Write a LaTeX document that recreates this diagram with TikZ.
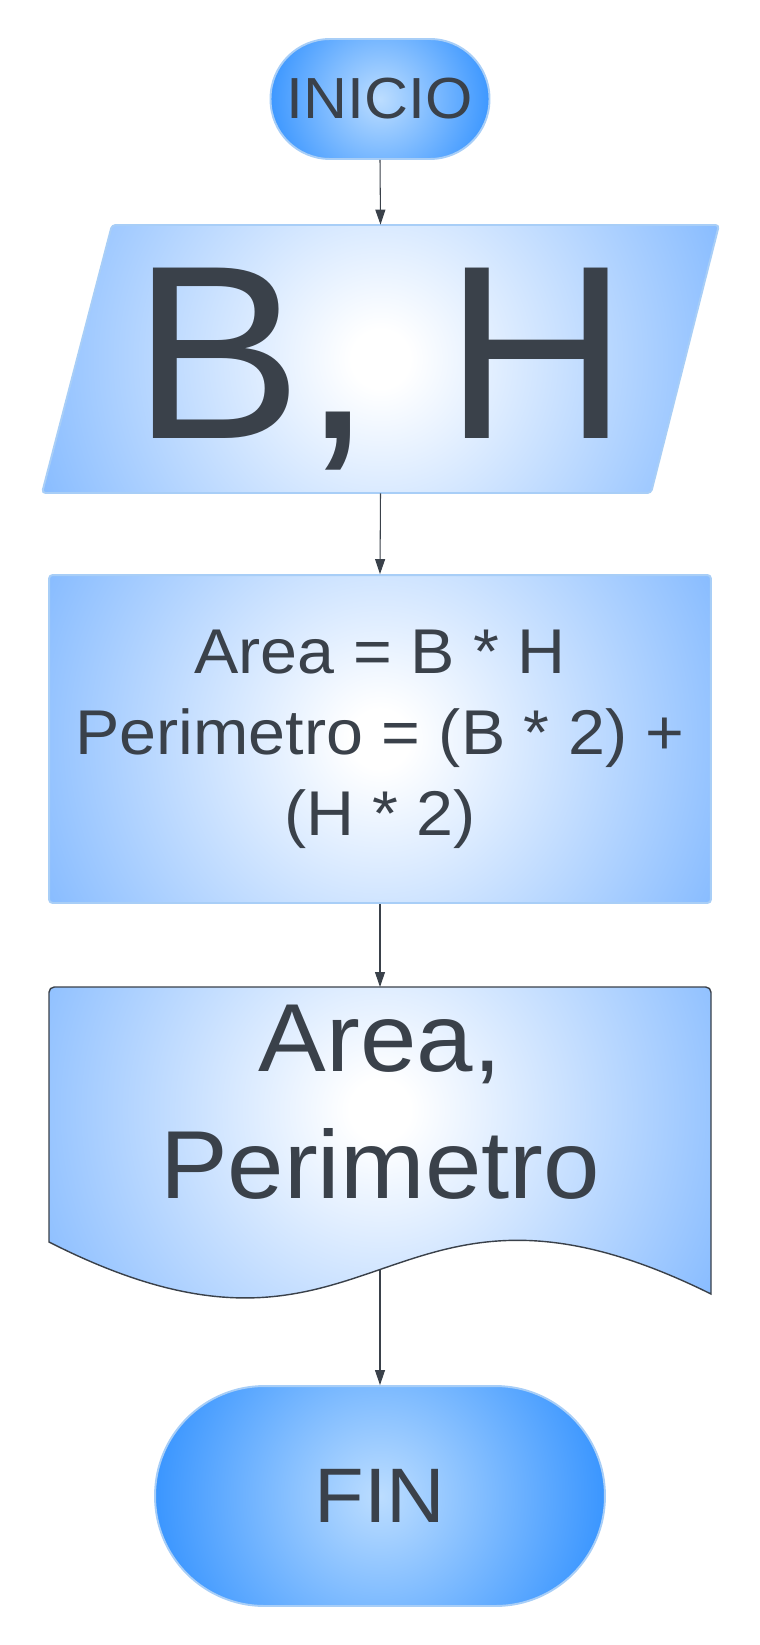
\documentclass[tikz,border=0pt]{standalone}
\usepackage{fontspec}
\setmainfont[FakeStretch=1.05]{Liberation Sans}
\newfontfamily\bigsans[FakeStretch=1.03]{Liberation Sans}
\usepackage{tikz}
\usetikzlibrary{arrows.meta}
\definecolor{inkc}{RGB}{58,65,74}
\definecolor{edgec}{RGB}{168,206,247}
\definecolor{palec}{RGB}{136,188,255}
\definecolor{termin}{RGB}{188,221,255}
\definecolor{termout}{RGB}{44,142,255}
\pgfdeclareradialshading{paleglow}{\pgfpoint{0bp}{0bp}}{color(0bp)=(white); color(2bp)=(white); color(25bp)=(palec); color(50bp)=(palec)}
\pgfdeclareradialshading{termglow}{\pgfpoint{0bp}{0bp}}{color(0bp)=(termin); color(25bp)=(termout); color(50bp)=(termout)}

\begin{document}
\begin{tikzpicture}[x=0.02cm,y=-0.02cm, every node/.style={text=inkc},
  glow/.style 2 args={path picture={\shade[shading=#1] (path picture bounding box.center) circle (#2);}},
  term/.style={draw=edgec, line width=1.1pt},
  flow/.style={draw=inkc, line width=0.6pt, -{Triangle[length=0.3cm,width=0.2cm]}}]
  \useasboundingbox (0,0) rectangle (760,1645);
  \node[term, minimum width=4.38cm, minimum height=2.4cm, rounded corners=1.19cm, glow={termglow}{2.5cm}, font=\fontsize{33}{40}\selectfont] (inicio) at (380,99) {INICIO};
  \draw[term, rounded corners=2pt, glow={paleglow}{7.3cm}] (112,225) -- (719,225) -- (651,493) -- (42,493) -- cycle;
  \node[inner sep=0pt, minimum height=5.36cm, text height=3.6cm, text depth=0.4cm, font=\bigsans\fontsize{141}{170}\selectfont] (bh) at (380.5,359) {B, H};
  \node[term, minimum width=13.24cm, minimum height=6.56cm, rounded corners=2pt, glow={paleglow}{7.4cm}, align=center, font=\fontsize{36}{46}\selectfont] (calc) at (380,739) {Area = B * H\\Perimetro = (B * 2) +\\(H * 2)};
  \coordinate (outc) at (380,1110);
  \coordinate (outtop) at (380,987);
  \coordinate (outbot) at (380,1269.5);
  \draw[draw=inkc, line width=0.8pt, path picture={\shade[shading=paleglow] (outc) circle (7.6cm);}] (49,1242) [rounded corners=3pt] -- (49,987) -- (711,987) [sharp corners] -- (711,1294) .. controls (380,1130) and (380,1410) .. (49,1242) -- cycle;
  \node[align=center, font=\fontsize{55}{72}\selectfont] (out) at (380,1102) {Area,\\Perimetro};
  \node[term, minimum width=9cm, minimum height=4.4cm, rounded corners=2.19cm, glow={termglow}{5cm}, font=\fontsize{44}{52}\selectfont] (fin) at (380,1496) {FIN};
  \draw[flow] (inicio.south) -- (bh.north);
  \draw[flow] (bh.south) -- (calc.north);
  \draw[flow] (calc.south) -- (outtop);
  \draw[flow] (outbot) -- (fin.north);
\end{tikzpicture}
\end{document}
